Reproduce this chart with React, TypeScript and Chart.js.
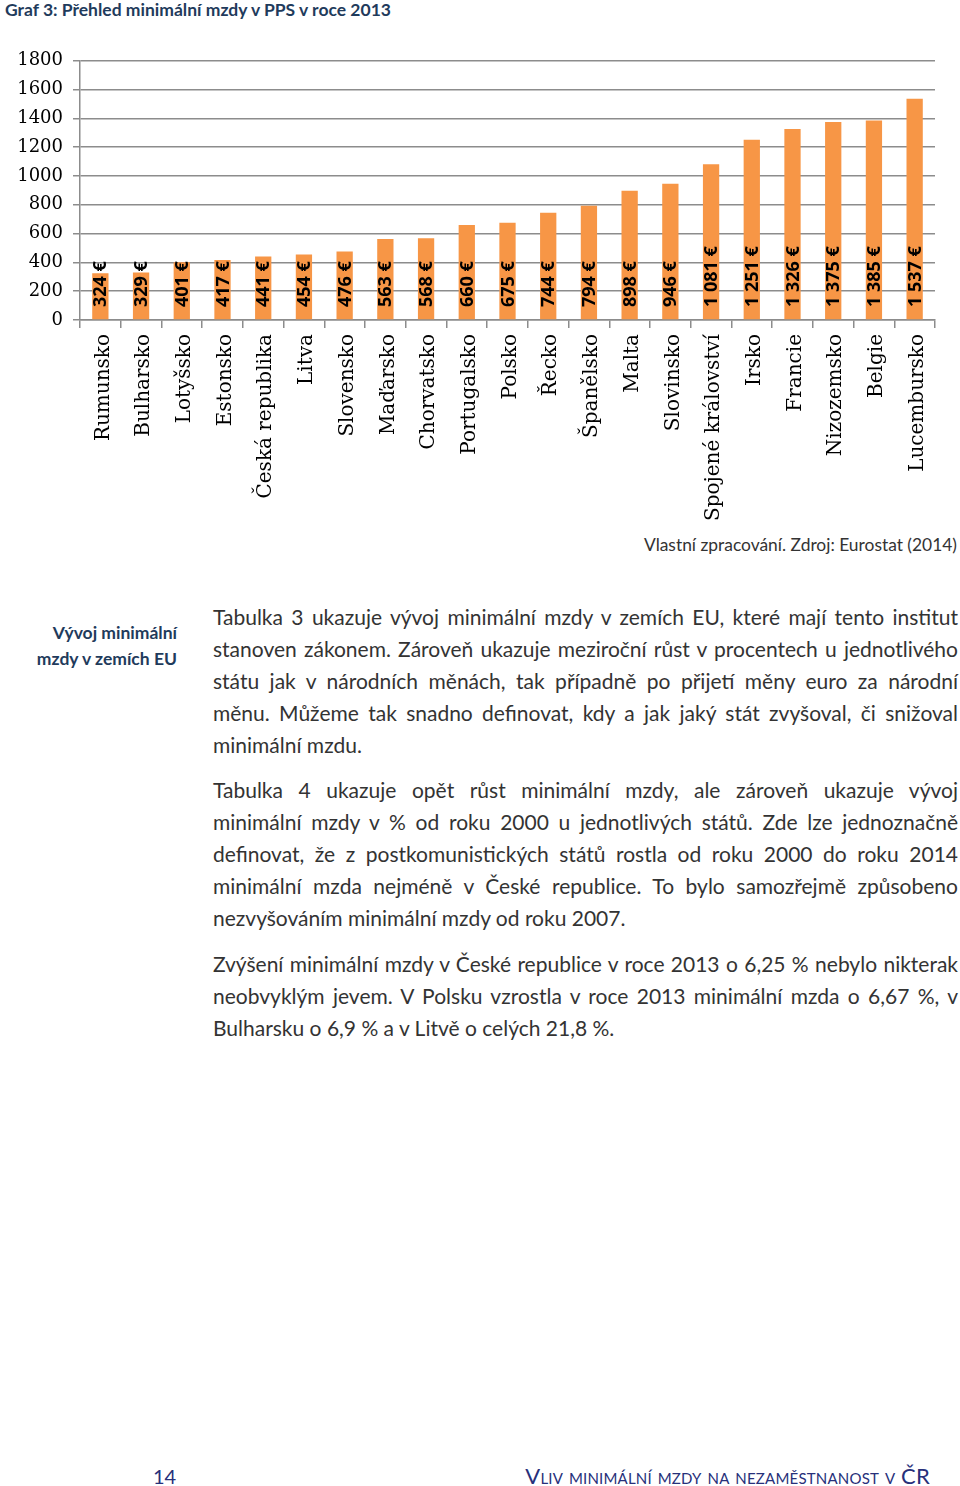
import React, { useEffect, useRef } from "react";
import { Chart, registerables } from "chart.js";

Chart.register(...registerables);

const categories: string[] = [
  "Rumunsko", "Bulharsko", "Lotyšsko", "Estonsko", "Česká republika", "Litva",
  "Slovensko", "Maďarsko", "Chorvatsko", "Portugalsko", "Polsko", "Řecko",
  "Španělsko", "Malta", "Slovinsko", "Spojené království", "Irsko", "Francie",
  "Nizozemsko", "Belgie", "Lucembursko",
];
const wagesPPS: number[] = [
  324, 329, 401, 417, 441, 454, 476, 563, 568, 660, 675, 744, 794, 898, 946,
  1081, 1251, 1326, 1375, 1385, 1537,
];
const valueLabels: string[] = [
  "324 €", "329 €", "401 €", "417 €", "441 €", "454 €", "476 €", "563 €", "568 €",
  "660 €", "675 €", "744 €", "794 €", "898 €", "946 €", "1 081 €", "1 251 €",
  "1 326 €", "1 375 €", "1 385 €", "1 537 €",
];
const yTicks = { min: 0, max: 1800, step: 200 };

const para1: string[] = [
  "Tabulka 3 ukazuje vývoj minimální mzdy v zemích EU, které mají tento institut",
  "stanoven zákonem. Zároveň ukazuje meziroční růst v procentech u jednotlivého",
  "státu jak v národních měnách, tak případně po přijetí měny euro za národní",
  "měnu. Můžeme tak snadno definovat, kdy a jak jaký stát zvyšoval, či snižoval",
  "minimální mzdu.",
];
const para2: string[] = [
  "Tabulka 4 ukazuje opět růst minimální mzdy, ale zároveň ukazuje vývoj",
  "minimální mzdy v % od roku 2000 u jednotlivých států. Zde lze jednoznačně",
  "definovat, že z postkomunistických států rostla od roku 2000 do roku 2014",
  "minimální mzda nejméně v České republice. To bylo samozřejmě způsobeno",
  "nezvyšováním minimální mzdy od roku 2007.",
];
const para3: string[] = [
  "Zvýšení minimální mzdy v České republice v roce 2013 o 6,25 % nebylo nikterak",
  "neobvyklým jevem. V Polsku vzrostla v roce 2013 minimální mzda o 6,67 %, v",
  "Bulharsku o 6,9 % a v Litvě o celých 21,8 %.",
];

const NAVY = "#1f3b5c";
const TEXT = "#333333";
const BODY_FONT = "Lato, 'Open Sans', sans-serif";

const valueLabelPlugin = {
  id: "valueLabels",
  afterDatasetsDraw(chart: any) {
    const ctx = chart.ctx;
    const meta = chart.getDatasetMeta(0);
    const y0 = chart.scales.y.getPixelForValue(0);
    ctx.save();
    ctx.font = "bold 18px 'Open Sans', sans-serif";
    ctx.fillStyle = "#000";
    ctx.textAlign = "left";
    ctx.textBaseline = "middle";
    meta.data.forEach((bar: any, i: number) => {
      ctx.save();
      ctx.translate(bar.x + 1, y0 - 13);
      ctx.rotate(-Math.PI / 2);
      ctx.fillText(valueLabels[i], 0, 0);
      ctx.restore();
    });
    ctx.restore();
  },
};

function BarChart() {
  const ref = useRef<HTMLCanvasElement>(null);
  useEffect(() => {
    if (!ref.current) return;
    const chart = new Chart(ref.current, {
      type: "bar",
      data: {
        labels: categories,
        datasets: [
          {
            data: wagesPPS,
            backgroundColor: "#f79646",
            borderWidth: 0,
            barPercentage: 0.4,
            categoryPercentage: 1,
          },
        ],
      },
      options: {
        animation: false,
        responsive: false,
        maintainAspectRatio: false,
        layout: { padding: { top: 20, right: 10, left: 0, bottom: 0 } },
        plugins: { legend: { display: false }, tooltip: { enabled: false } },
        scales: {
          x: {
            afterFit(scale: any) {
              scale.height = 210;
            },
            grid: {
              display: true,
              offset: true,
              drawOnChartArea: false,
              drawTicks: true,
              tickLength: 8,
              color: "#8c8c8c",
              lineWidth: 1.5,
            },
            border: { display: true, color: "#8c8c8c", width: 1.5 },
            ticks: {
              autoSkip: false,
              minRotation: 90,
              maxRotation: 90,
              padding: 6,
              labelOffset: 3,
              color: "#000",
              font: { family: "'DejaVu Serif', serif", size: 20 },
            },
          },
          y: {
            min: yTicks.min,
            max: yTicks.max,
            afterFit(scale: any) {
              scale.width = 80;
            },
            grid: {
              color: "#8c8c8c",
              lineWidth: 1.5,
              drawTicks: true,
              tickLength: 7,
            },
            border: { display: true, color: "#8c8c8c", width: 1.5 },
            ticks: {
              stepSize: yTicks.step,
              padding: 10,
              color: "#000",
              font: { family: "'DejaVu Serif', serif", size: 18 },
              callback: (v: any) => String(v),
            },
          },
        },
      },
      plugins: [valueLabelPlugin],
    });
    return () => chart.destroy();
  }, []);
  return (
    <canvas
      ref={ref}
      width={945}
      height={490}
      style={{ position: "absolute", left: 0, top: 40, width: 945, height: 490 }}
    />
  );
}

function Paragraph({ lines, top }: { lines: string[]; top: number }) {
  return (
    <div style={{ position: "absolute", left: 213, top, width: 745 }}>
      {lines.map((l, i) => {
        const last = i === lines.length - 1;
        return (
          <div
            key={i}
            style={{
              height: 32,
              lineHeight: "32px",
              whiteSpace: "nowrap",
              textAlign: last ? "left" : "justify",
              textAlignLast: last ? "left" : "justify",
            } as React.CSSProperties}
          >
            {l}
          </div>
        );
      })}
    </div>
  );
}

export default function App() {
  return (
    <div
      style={{
        position: "absolute",
        left: 0,
        top: 0,
        width: 960,
        height: 1486,
        background: "#fff",
        fontFamily: BODY_FONT,
        color: TEXT,
        overflow: "hidden",
      }}
    >
      <div
        style={{
          position: "absolute",
          left: 5,
          top: 0,
          height: 20,
          lineHeight: "20px",
          fontWeight: 700,
          fontSize: 17.5,
          color: NAVY,
          whiteSpace: "nowrap",
        }}
      >
        Graf 3: Přehled minimální mzdy v PPS v roce 2013
      </div>
      <BarChart />
      <div
        style={{
          position: "absolute",
          right: 3,
          top: 535,
          height: 20,
          lineHeight: "20px",
          fontSize: 17.4,
          whiteSpace: "nowrap",
        }}
      >
        Vlastní zpracování. Zdroj: Eurostat (2014)
      </div>
      <div
        style={{
          position: "absolute",
          right: 960 - 177,
          top: 620,
          textAlign: "right",
          fontWeight: 700,
          fontSize: 17.5,
          lineHeight: "26px",
          color: NAVY,
          whiteSpace: "nowrap",
        }}
      >
        <div>Vývoj minimální</div>
        <div>mzdy v zemích EU</div>
      </div>
      <div style={{ fontSize: 21 }}>
        <Paragraph lines={para1} top={601} />
        <Paragraph lines={para2} top={774} />
        <Paragraph lines={para3} top={948} />
      </div>
      <div
        style={{
          position: "absolute",
          left: 153,
          top: 1464,
          lineHeight: "24px",
          fontSize: 20,
          color: "#27307a",
        }}
      >
        14
      </div>
      <div
        style={{
          position: "absolute",
          right: 30,
          top: 1464,
          lineHeight: "24px",
          fontSize: 22,
          letterSpacing: 0.2,
          color: "#27307a",
          fontVariant: "small-caps",
          whiteSpace: "nowrap",
        }}
      >
        Vliv minimální mzdy na nezaměstnanost v ČR
      </div>
    </div>
  );
}
